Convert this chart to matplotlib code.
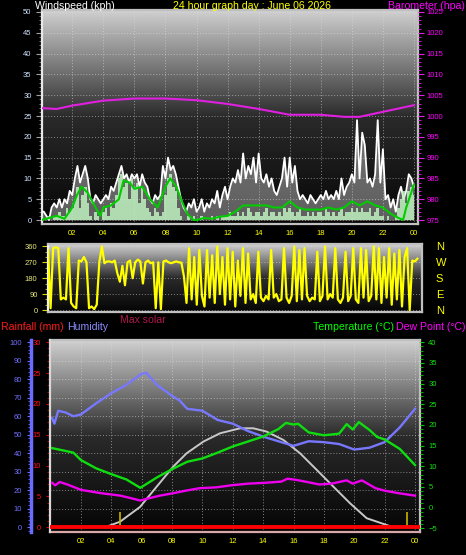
import numpy as np
import matplotlib
matplotlib.use('Agg')
import matplotlib.pyplot as plt
from matplotlib.colors import LinearSegmentedColormap
from matplotlib.ticker import MultipleLocator

plt.rcParams['font.family'] = ['Liberation Sans', 'DejaVu Sans']

W, H, DPI = 466, 555, 100

# ---------------- data ----------------
hour_ticks = [2, 4, 6, 8, 10, 12, 14, 16, 18, 20, 22, 24]
hour_labels = ['02', '04', '06', '08', '10', '12', '14', '16', '18', '20', '22', '00']

# wind (10-minute samples, kph)
wind_gust = [2, 2, 1, 0, 3, 4,   3, 5, 3, 5, 4, 7,   6, 10, 13, 9, 11, 13,
             10, 5, 4, 6, 5, 4,  5, 6, 5, 8, 7, 9,   11, 13, 10, 11, 9, 11,
             10, 11, 8, 11, 9, 8, 5, 4, 6, 5, 6, 13, 10, 15, 12, 13, 11, 8,
             5, 3, 2, 4, 3, 5,   2, 3, 5, 2, 4, 3,   5, 4, 7, 3, 6, 8,
             5, 8, 10, 9, 12, 9, 16, 10, 13, 11, 15, 9, 16, 10, 9, 11, 8, 10,
             7, 6, 8, 10, 15, 8, 15, 9, 13, 7, 5, 6, 5, 4, 6, 5, 4, 5,
             6, 5, 7, 5, 6, 5,   7, 5, 10, 6, 8, 9,  11, 9, 24, 10, 21, 18,
             9, 10, 8, 11, 24, 9, 17, 5, 6, 3, 5, 2, 6, 8, 5, 7, 11, 10, 8]
wind_speed = [1, 0, 0, 1, 0, 1,  1, 2, 1, 1, 3, 2,  3, 5, 8, 3, 6, 8,
              4, 1, 0, 2, 1, 0,  2, 3, 1, 4, 3, 6,  10, 11, 8, 9, 5, 10,
              8, 9, 4, 8, 5, 3,  2, 1, 3, 2, 1, 2,  6, 10, 11, 8, 7, 3,
              1, 0, 0, 1, 0, 1,  0, 0, 1, 0, 0, 0,  1, 0, 1, 0, 1, 1,
              1, 2, 1, 1, 2, 1,  2, 1, 3, 2, 1, 2,  2, 1, 2, 3, 1, 2,
              2, 1, 2, 1, 3, 2,  3, 2, 1, 2, 3, 1,  1, 2, 1, 2, 1, 2,
              2, 1, 3, 2, 1, 2,  1, 2, 3, 1, 2, 2,  3, 2, 3, 2, 3, 2,
              2, 3, 1, 2, 3, 1,  1, 0, 1, 0, 0, 1,  3, 5, 7, 4, 7, 8, 6]
avg_hours = [0, 0.5, 1, 1.5, 2, 2.3, 2.6, 3, 3.5, 3.8, 4, 4.5, 5, 5.3, 5.7, 6, 6.5,
             7, 7.5, 8, 8.3, 8.7, 9, 9.4, 9.8, 10, 10.5, 11, 11.5, 12, 12.5, 13,
             13.5, 14, 14.5, 15, 15.5, 16, 16.5, 17, 17.5, 18, 18.5, 19, 19.5, 20,
             20.5, 21, 21.5, 22, 22.5, 23, 23.3, 23.5, 24]
avg_vals = [0, 0.5, 1.0, 0.3, 3, 6, 8, 6.5, 3, 1, 3, 3.5, 5, 9.5, 9, 7.5, 8,
            5, 3, 8, 10, 8, 5, 1.5, 0, 0, 0.5, 0.3, 0.8, 1, 2, 3.5,
            3.5, 3.5, 3.5, 3, 3, 4.5, 3, 2.5, 2.5, 2.5, 3, 2.5, 3, 4.5,
            3.5, 4.5, 3.5, 3, 1.5, 0.5, 0, 3, 8.5]
baro_hours = [0, 1, 2, 4, 6, 8, 9, 10, 12, 14, 16, 18, 19.5, 20.5, 22, 23, 24]
baro_vals = [1001.9, 1001.7, 1002.5, 1003.7, 1004.2, 1004.2, 1004.0, 1003.8, 1002.9,
             1001.7, 1000.3, 1000.3, 999.8, 999.8, 1001.0, 1001.8, 1002.6]

# wind direction (10-minute samples, degrees)
wind_dir = [340, 10, 350, 355, 350, 60,   70, 60, 350, 40, 20, 10,
            280, 275, 300, 270, 10, 20,   5, 30, 270, 360, 265, 275,
            275, 270, 280, 210, 160, 250, 140, 270, 280, 180, 270, 285,
            275, 150, 270, 280, 265, 270, 10, 270, 5, 275, 280, 270,
            265, 270, 275, 270, 268, 190, 40, 350, 60, 300, 30, 340,
            80, 20, 340, 70, 310, 40,     360, 90, 300, 30, 350, 60,
            330, 20, 280, 80, 350, 40,    320, 60, 90, 40, 330, 70,
            50, 80, 60, 340, 70, 90,      50, 60, 350, 70, 40, 80,
            360, 50, 340, 60, 350, 80,    50, 70, 60, 330, 50, 80,
            360, 60, 90, 70, 350, 60,     40, 70, 330, 50, 80, 350,
            60, 40, 350, 70, 340, 50,     80, 360, 60, 350, 40, 300,
            70, 350, 30, 320, 60, 340,    20, 300, 350, 0, 280, 275, 290]

# bottom panel
hum_hours = [0.1, 0.25, 0.5, 1, 1.5, 2, 3, 4, 5, 6, 6.3, 7, 8, 8.5, 9, 10, 11, 12,
             13, 14, 15, 16, 17, 18, 19, 20, 21, 22, 23, 24]
hum_vals = [59, 56, 63, 62, 60, 61, 67, 72.5, 77, 83, 83.5, 77, 71, 68.5, 64, 63, 58,
            56, 52, 49, 46.5, 44, 46.5, 46, 45, 42, 43, 46, 54, 64]
temp_hours = [0.1, 1, 1.5, 2, 3, 4, 5, 5.9, 6, 7, 8, 9, 10, 11, 12, 13, 14, 15, 15.5,
              16, 16.3, 17, 18, 19, 19.5, 19.9, 20.3, 21, 21.5, 22, 23, 24]
temp_vals = [14.4, 13.7, 13.3, 11.5, 9.5, 8.1, 6.8, 4.8, 5.0, 7.3, 9.3, 11.1, 11.9,
             13.3, 14.8, 16.0, 17.2, 19.0, 20.5, 20.1, 20.3, 18.2, 17.5, 17.9, 20.2,
             18.9, 20.7, 18.8, 17.1, 16.5, 14.2, 10.3]
dew_hours = [0.1, 0.3, 0.6, 1.1, 2, 3.3, 4.6, 5.5, 5.9, 6.3, 7.2, 8.1, 8.9, 9.8, 10.9,
             11.9, 13.0, 14.1, 15.2, 15.6, 16.2, 16.9, 17.7, 18.5, 19.5, 19.9, 20.5,
             21.4, 22.0, 22.9, 24]
dew_vals = [6.0, 5.4, 6.2, 5.6, 4.3, 3.5, 2.9, 2.1, 1.7, 2.1, 2.9, 3.5, 4.1, 4.7, 4.9,
            5.4, 5.8, 6.0, 6.3, 7.0, 6.7, 6.2, 5.6, 5.8, 6.6, 5.8, 6.6, 4.7, 4.1, 3.5, 2.9]
solar_hours = [3.58, 4.57, 5.89, 6.99, 8.08, 8.96, 10.06, 11.16, 12.48, 13.35, 14.23,
               15.33, 16.43, 17.53, 18.62, 19.72, 20.82, 22.58]
solar_vals = [0, 3, 11, 22, 32.8, 40, 46.3, 50.8, 53.5, 53.5, 51.7, 47.2, 40, 31, 22,
              13, 4.9, 0]
rain_hours = [0, 24.3]
rain_vals = [0, 0]
sun_events = [4.57, 23.5]
sun_marker_height = 8.3

t10 = np.arange(len(wind_gust)) / 6.0

# ---------------- figure ----------------
fig = plt.figure(figsize=(W / DPI, H / DPI), dpi=DPI, facecolor='black')
PT = 72.0 / DPI  # points per pixel


def px_axes(l, t, r, b):
    return fig.add_axes([l / W, 1 - b / H, (r - l) / W, (b - t) / H])


bg_cmap = LinearSegmentedColormap.from_list('bg', ['#050505', '#2a2a2a', '#d0d0d0'])


def gradient(ax, xl, yl):
    g = np.linspace(0, 1, 256).reshape(-1, 1)
    ax.imshow(g, cmap=bg_cmap, origin='lower', aspect='auto', zorder=0,
              extent=(xl[0], xl[1], yl[0], yl[1]), interpolation='bilinear')
    ax.set_xlim(xl)
    ax.set_ylim(yl)


def frame(ax, color='#c0c0c0'):
    for s in ax.spines.values():
        s.set_color(color)
        s.set_linewidth(1.6)


grid_kw = dict(color='#e0e0e0', linestyle=(0, (1, 2)), linewidth=0.7, alpha=0.55)
TS = 5.5

# ---- top: wind + barometer ----
ax1 = px_axes(42, 10, 418, 224)
x1 = (0.05, 24.26)
y1 = (-0.96, 50.48)
gradient(ax1, x1, y1)
frame(ax1)
ax1.spines['left'].set_color('#e8e8e8')
ax1.fill_between(t10, wind_gust, color='#f0f0f0', alpha=0.38, lw=0, zorder=2)
ax1.plot(t10, wind_gust, color='white', lw=1.3, zorder=3)
ax1.fill_between(t10, wind_speed, step='mid', color='#bff2bf', alpha=0.85, lw=0, zorder=4)
ax1.plot(avg_hours, avg_vals, color='#00cc00', lw=1.5, zorder=5)
ax1.yaxis.set_major_locator(MultipleLocator(5))
ax1.yaxis.set_minor_locator(MultipleLocator(1))
ax1.set_xticks(hour_ticks, hour_labels)
ax1.grid(True, which='major', **grid_kw)
ax1.tick_params(axis='y', which='major', colors='#a0a0a0', labelcolor='#d0e4ff',
                labelsize=TS, length=4, pad=3.5)
ax1.tick_params(axis='y', which='minor', colors='#8a8a8a', length=2)
ax1.tick_params(axis='x', colors='#ffff00', labelcolor='#ffff00', labelsize=TS,
                length=0, pad=4)

ax1b = ax1.twinx()
ax1b.set_ylim(974.04, 1025.48)
ax1b.set_xlim(x1)
for s in ax1b.spines.values():
    s.set_visible(False)
ax1b.plot(baro_hours, baro_vals, color='#e020e0', lw=1.5)
ax1b.yaxis.set_major_locator(MultipleLocator(5))
ax1b.yaxis.set_minor_locator(MultipleLocator(1))
ax1b.tick_params(axis='y', which='major', colors='#e020e0', labelcolor='#ff00ff',
                 labelsize=TS, length=4, pad=2)
ax1b.tick_params(axis='y', which='minor', colors='#e020e0', length=2)

# ---- middle: wind direction ----
ax2 = px_axes(48, 244, 422, 312)
x2 = (0, 24.3)
y2 = (-11.3, 373.6)
gradient(ax2, x2, y2)
frame(ax2)
ax2.spines['left'].set_color('#f0f0f0')
ax2.plot(t10, wind_dir, color='#ffff00', lw=1.6, zorder=3)
ax2.set_yticks([0, 90, 180, 270, 360])
ax2.yaxis.set_minor_locator(MultipleLocator(30))
ax2.set_xticks(hour_ticks)
ax2.set_xticklabels([])
ax2.grid(True, axis='y', which='major', **grid_kw)
ax2.tick_params(axis='y', which='major', colors='#d8d800', labelcolor='#e8e878',
                labelsize=TS, length=4, pad=3.5)
ax2.tick_params(axis='y', which='minor', colors='#c8c800', length=2)
ax2.tick_params(axis='x', length=0)

ax2b = ax2.twinx()
ax2b.set_ylim(y2)
for s in ax2b.spines.values():
    s.set_visible(False)
ax2b.set_yticks([360, 270, 180, 90, 0], ['N', 'W', 'S', 'E', 'N'])
ax2b.tick_params(axis='y', length=0, pad=10, labelsize=8, labelcolor='#ffff00')

# ---- bottom: rain / humidity / temperature / dew point ----
ax3 = px_axes(50, 340, 420, 532)
x3 = (-0.04, 24.33)
y3 = (-2.54, 101.2)
gradient(ax3, x3, y3)
frame(ax3)
ax3.spines['bottom'].set_color('#d8a8a8')
ax3.spines['left'].set_position(('outward', 19 * PT))
ax3.spines['left'].set_color('#6a6aff')
ax3.spines['left'].set_linewidth(2.5)
ax3.plot(solar_hours, solar_vals, color='#c8c8c8', lw=1.4, zorder=3)
ax3.plot(hum_hours, hum_vals, color='#7878ff', lw=1.7, zorder=4)
ax3.vlines(sun_events, 0, sun_marker_height, color='#c8b400', lw=1.2, zorder=4)
ax3.yaxis.set_major_locator(MultipleLocator(10))
ax3.yaxis.set_minor_locator(MultipleLocator(2))
ax3.set_xticks(hour_ticks, hour_labels)
ax3.grid(True, which='major', **grid_kw)
ax3.tick_params(axis='y', which='major', colors='#6a6aff', labelcolor='#7070ff',
                labelsize=TS, length=3, pad=3.5)
ax3.tick_params(axis='y', which='minor', colors='#6a6aff', length=2)
ax3.tick_params(axis='x', colors='#ffff00', labelcolor='#ffff00', labelsize=TS,
                length=0, pad=4.5)

ax3r = ax3.twinx()
ax3r.set_xlim(x3)
ax3r.set_ylim(-0.76, 30.37)
for s in ax3r.spines.values():
    s.set_visible(False)
ax3r.spines['left'].set_visible(True)
ax3r.spines['left'].set_color('#d8d8d8')
ax3r.spines['left'].set_linewidth(1.6)
ax3r.yaxis.tick_left()
ax3r.plot(rain_hours, rain_vals, color='#ff0000', lw=2.8, zorder=3)
ax3r.yaxis.set_major_locator(MultipleLocator(5))
ax3r.yaxis.set_minor_locator(MultipleLocator(1))
ax3r.tick_params(axis='y', which='major', colors='#e00000', labelcolor='#ff1010',
                 labelsize=TS, length=3, pad=3.5)
ax3r.tick_params(axis='y', which='minor', colors='#d00000', length=2)

ax3t = ax3.twinx()
ax3t.set_xlim(x3)
ax3t.set_ylim(-5.9, 40.56)
for s in ax3t.spines.values():
    s.set_visible(False)
ax3t.plot(temp_hours, temp_vals, color='#10dd10', lw=1.7, zorder=3)
ax3t.plot(dew_hours, dew_vals, color='#ee00ee', lw=1.7, zorder=3)
ax3t.yaxis.set_major_locator(MultipleLocator(5))
ax3t.yaxis.set_minor_locator(MultipleLocator(1))
ax3t.tick_params(axis='y', which='major', colors='#00cc00', labelcolor='#10e010',
                 labelsize=TS, length=3, pad=3)
ax3t.tick_params(axis='y', which='minor', colors='#00cc00', length=2)

# ---- texts ----
FS = 7.6
fig.text(35 / W, 1 - 6 / H, 'Windspeed (kph)', color='white', fontsize=FS, va='center', ha='left')
fig.text(252 / W, 1 - 6 / H, '24 hour graph day : June 06 2026', color='#ffff00',
         fontsize=FS, va='center', ha='center')
fig.text(465 / W, 1 - 6 / H, 'Barometer (hpa)', color='#ff00ff', fontsize=FS, va='center', ha='right')
fig.text(1 / W, 1 - 327 / H, 'Rainfall (mm)', color='#ff1a1a', fontsize=FS, va='center', ha='left')
fig.text(67 / W, 1 - 327 / H, 'Humidity', color='#8c8cff', fontsize=FS, va='center', ha='left')
fig.text(120 / W, 1 - 320 / H, 'Max solar', color='#b0184a', fontsize=FS, va='center', ha='left')
fig.text(313 / W, 1 - 327 / H, 'Temperature (\u00b0C)', color='#00ff00', fontsize=FS, va='center', ha='left')
fig.text(465 / W, 1 - 327 / H, 'Dew Point (\u00b0C)', color='#ff00ff', fontsize=FS, va='center', ha='right')

fig.savefig('out.png', dpi=DPI, facecolor='black')
